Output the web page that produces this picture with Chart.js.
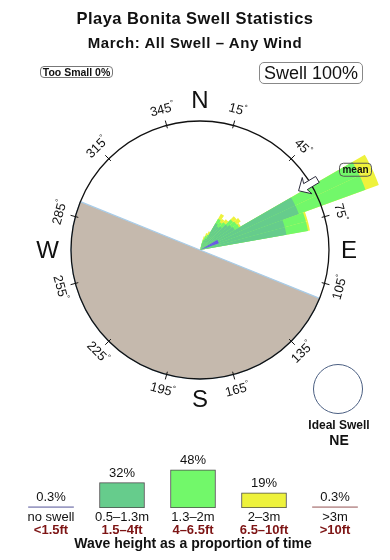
<!DOCTYPE html>
<html>
<head>
<meta charset="utf-8">
<script src="https://cdn.jsdelivr.net/npm/chart.js@4.4.1/dist/chart.umd.min.js"></script>
<style>
  html, body { margin: 0; padding: 0; background: #fff; }
  body {
    width: 390px; height: 560px; position: relative; overflow: hidden;
    font-family: "Liberation Sans", Arial, sans-serif; color: #111;
  }
  canvas { position: absolute; left: 0; }
  #rose { top: 0; }
  #heights { top: 440px; }
  .txt { position: absolute; white-space: nowrap; text-align: center; }
  .box { position: absolute; box-sizing: border-box; border: 1px solid #777; text-align: center; white-space: nowrap; }
</style>
</head>
<body>
<canvas id="rose" width="390" height="560"></canvas>
<canvas id="heights" width="390" height="120"></canvas>

<div class="txt" style="top:8px;left:0;width:390px;font:bold 16.5px/20px 'Liberation Sans',Arial,sans-serif;letter-spacing:0.45px">Playa Bonita Swell Statistics</div>
<div class="txt" style="top:33px;left:0;width:390px;font:bold 15px/19px 'Liberation Sans',Arial,sans-serif;letter-spacing:0.55px">March: All Swell – Any Wind</div>
<div class="box" style="left:40px;top:66px;width:73px;height:12px;border-radius:4px;font:bold 10.5px/10px 'Liberation Sans',Arial,sans-serif">Too Small 0%</div>
<div class="box" style="left:259px;top:62px;width:104px;height:22px;border-radius:5px;border-color:#888;font:18px/20px 'Liberation Sans',Arial,sans-serif">Swell 100%</div>
<div style="position:absolute;left:313px;top:364px;width:50px;height:50px;box-sizing:border-box;border:1px solid #4b5f82;border-radius:50%"></div>
<div class="txt" style="left:299px;width:80px;top:417px;font:bold 12px/16px 'Liberation Sans',Arial,sans-serif">Ideal Swell</div>
<div class="txt" style="left:299px;width:80px;top:431px;font:bold 14px/18px 'Liberation Sans',Arial,sans-serif">NE</div>

<script>
// direction sectors: bearing (deg, clockwise from N) where each 5° sector starts
const SECTOR_START = [15, 20, 25, 30, 35, 40, 45, 50, 55, 60, 65, 70, 75];
const SECTOR_WIDTH = 5;

// share of time per sector for each wave height band (outer ring = 20)
const NO_SWELL   = [0,   0,   0,   0,   0,   0,   0,   0,   0,   3.1,  3.1,  0,    0];
const BAND_SMALL = [1.2, 1.7, 2.0, 4.8, 4.5, 4.8, 5.6, 6.0, 6.2, 13.2, 13.2, 13.6, 13.6];
const BAND_MID   = [0.5, 0.6, 0.6, 0.8, 0.8, 0.8, 1.1, 0.9, 0.8, 11.0, 11.0, 3.4,  3.4];
const BAND_BIG   = [0.5, 0.5, 0.6, 0.9, 0.6, 0.6, 0.7, 0.8, 0.3, 2.2,  2.2,  0.3,  0.3];

const RING_MAX = 20;
const COAST = [112, 292];          // land side of the rose, clockwise from..to
const MEAN_BEARING = 59;
const DEGREE_TICKS = [15, 45, 75, 105, 135, 165, 195, 225, 255, 285, 315, 345];
const CARDINALS = ['N', 'E', 'S', 'W'];

// legend: wave height distribution
const HEIGHT_LABELS = ['no swell', '0.5–1.3m', '1.3–2m', '2–3m', '>3m'];
const HEIGHT_FEET = ['<1.5ft', '1.5–4ft', '4–6.5ft', '6.5–10ft', '>10ft'];
const HEIGHT_SHARE = [0.3, 32, 48, 19, 0.3];

const FONT = '"Liberation Sans", Arial, sans-serif';
Chart.defaults.font.family = FONT;

const BAND_COLORS = ['#6b4ff0', '#66cc8c', '#72f86a', '#eef23c'];
const HEIGHT_COLORS = ['#9c9cc4', '#66cc8c', '#72f86a', '#eef23c', '#c29c9c'];

// stack the bands outward: each dataset holds the running total
let running = SECTOR_START.map(() => 0);
const windSets = [NO_SWELL, BAND_SMALL, BAND_MID, BAND_BIG].map((band, k) => {
  running = running.map((v, i) => v + band[i]);
  return {
    data: [0, ...running],   // first element only offsets to the first sector
    backgroundColor: BAND_COLORS[k],
    borderWidth: 0,
    angle: (ctx) => ctx.dataIndex === 0 ? SECTOR_START[0] : SECTOR_WIDTH,
  };
});

const landSet = {
  data: [0, RING_MAX],
  backgroundColor: '#c5b9ad',
  borderColor: '#a9cde9',
  borderWidth: (ctx) => ctx.dataIndex === 0 ? 0 : 1.2,
  angle: (ctx) => ctx.dataIndex === 0 ? COAST[0] : COAST[1] - COAST[0],
};

const compassRing = {
  id: 'compassRing',
  afterDraw(chart) {
    const s = chart.scales.r;
    const ctx = chart.ctx;
    const cx = s.xCenter, cy = s.yCenter;
    const R = s.getDistanceFromCenterForValue(RING_MAX);
    const at = (deg, d, side) => {
      const a = deg * Math.PI / 180;
      side = side || 0;
      return [cx + d * Math.sin(a) + side * Math.cos(a), cy - d * Math.cos(a) + side * Math.sin(a)];
    };
    ctx.save();

    // ticks across the ring
    ctx.strokeStyle = '#111';
    ctx.lineWidth = 1;
    DEGREE_TICKS.forEach(b => {
      const p1 = at(b, R - 3), p2 = at(b, R + 5);
      ctx.beginPath(); ctx.moveTo(p1[0], p1[1]); ctx.lineTo(p2[0], p2[1]); ctx.stroke();
    });

    // degree labels, turned along the ring
    ctx.fillStyle = '#111';
    ctx.textBaseline = 'middle';
    ctx.textAlign = 'left';
    DEGREE_TICKS.forEach(b => {
      const p = at(b, R + 16);
      const flip = b > 90 && b < 270;
      ctx.save();
      ctx.translate(p[0], p[1]);
      ctx.rotate((flip ? b - 180 : b) * Math.PI / 180);
      const num = String(b);
      ctx.font = '13px ' + FONT;
      const wn = ctx.measureText(num).width;
      ctx.font = '8px ' + FONT;
      const wd = ctx.measureText('°').width;
      ctx.font = '13px ' + FONT;
      ctx.fillText(num, -(wn + wd) / 2, 0);
      ctx.font = '8px ' + FONT;
      ctx.fillText('°', -(wn + wd) / 2 + wn, -4);
      ctx.restore();
    });

    // cardinal letters
    ctx.font = '24px ' + FONT;
    ctx.textAlign = 'center';
    CARDINALS.forEach((c, i) => {
      const half = i % 2 ? ctx.measureText(c).width / 2 : 8.6;
      const p = at(i * 90, R + 12 + half);
      ctx.fillText(c, p[0], p[1] + 1);
    });

    // mean direction arrow, pointing in to the centre
    const shape = [[115, 0], [125, -9.5], [123, -3.5], [137, -3.5], [137, 3.5], [123, 3.5], [125, 9.5]];
    ctx.beginPath();
    shape.forEach((q, i) => {
      const p = at(MEAN_BEARING, q[0], q[1]);
      if (i) ctx.lineTo(p[0], p[1]); else ctx.moveTo(p[0], p[1]);
    });
    ctx.closePath();
    ctx.fillStyle = '#fff';
    ctx.fill();
    ctx.strokeStyle = '#2b2b3b';
    ctx.lineWidth = 1;
    ctx.stroke();

    // "mean" tag
    const m = at(MEAN_BEARING + 3.7, R + 46);
    ctx.beginPath();
    ctx.roundRect(m[0] - 16, m[1] - 6.5, 32, 13, 4);
    ctx.strokeStyle = '#555';
    ctx.stroke();
    ctx.fillStyle = '#111';
    ctx.font = 'bold 10px ' + FONT;
    ctx.fillText('mean', m[0], m[1] + 0.5);
    ctx.restore();
  }
};

new Chart(document.getElementById('rose'), {
  type: 'polarArea',
  data: {
    labels: ['', ...SECTOR_START.map(b => b + '°')],
    datasets: [...windSets, landSet],
  },
  options: {
    responsive: false,
    animation: false,
    events: [],
    layout: { padding: { left: 71, right: 61, top: 121, bottom: 181 } },
    plugins: { legend: { display: false }, tooltip: { enabled: false } },
    scales: {
      r: {
        min: 0,
        max: RING_MAX,
        startAngle: 0,
        ticks: { display: false, stepSize: RING_MAX },
        grid: { circular: true, color: '#111', lineWidth: 1.3, z: 1 },
        angleLines: { display: false },
        pointLabels: { display: false },
      },
    },
  },
  plugins: [compassRing],
});

const barNotes = {
  id: 'barNotes',
  afterDraw(chart) {
    const ctx = chart.ctx;
    const x = chart.scales.x;
    ctx.save();
    ctx.textAlign = 'center';
    ctx.textBaseline = 'middle';
    ctx.fillStyle = '#111';
    ctx.font = '13px ' + FONT;
    chart.getDatasetMeta(0).data.forEach((bar, i) => {
      ctx.fillText(HEIGHT_SHARE[i] + '%', bar.x, bar.y - 9);
    });
    ctx.fillStyle = '#7d1414';
    ctx.font = 'bold 13px ' + FONT;
    HEIGHT_FEET.forEach((t, i) => {
      ctx.fillText(t, x.getPixelForValue(i), x.top + 22);
    });
    ctx.restore();
  }
};

new Chart(document.getElementById('heights'), {
  type: 'bar',
  data: {
    labels: HEIGHT_LABELS,
    datasets: [{
      data: HEIGHT_SHARE,
      backgroundColor: HEIGHT_COLORS,
      borderColor: '#4d4d4d',
      borderWidth: (ctx) => HEIGHT_SHARE[ctx.dataIndex] < 1 ? 0 : 1,
      borderSkipped: false,
      barThickness: 45,
      minBarLength: 1.5,
    }],
  },
  options: {
    responsive: false,
    animation: false,
    events: [],
    layout: { padding: { left: 15.5, right: 19.5, top: 10, bottom: 0 } },
    plugins: { legend: { display: false }, tooltip: { enabled: false } },
    scales: {
      x: {
        grid: { display: false, drawTicks: false },
        border: { display: false },
        ticks: { color: '#111', font: { size: 13 }, padding: 2, maxRotation: 0, autoSkip: false },
        title: {
          display: true,
          text: 'Wave height as a proportion of time',
          color: '#111',
          font: { size: 14, weight: 'bold' },
          padding: { top: 0, bottom: 7 },
        },
        afterFit: (scale) => { scale.height = 52; },
      },
      y: { display: false, min: 0, max: 73 },
    },
  },
  plugins: [barNotes],
});
</script>
</body>
</html>
